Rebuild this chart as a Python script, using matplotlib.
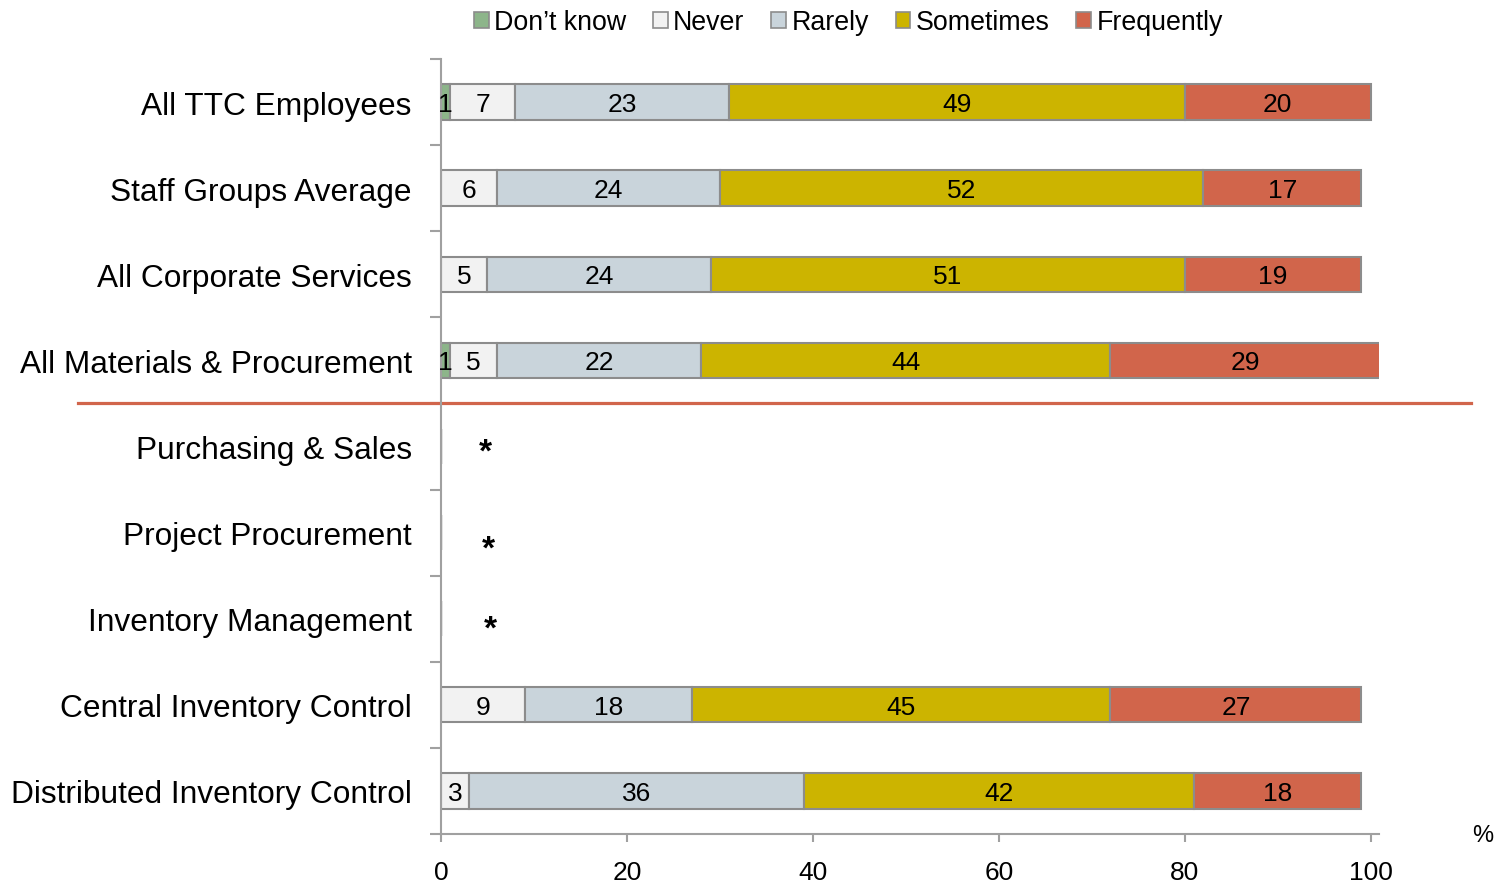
import numpy as np
import matplotlib.pyplot as plt
from matplotlib.patches import Patch
from matplotlib.transforms import blended_transform_factory

plt.rcParams['font.family'] = ['Liberation Sans', 'DejaVu Sans']

CATEGORIES = [
    "All TTC Employees",
    "Staff Groups Average",
    "All Corporate Services",
    "All Materials & Procurement",
    "Purchasing & Sales",
    "Project Procurement",
    "Inventory Management",
    "Central Inventory Control",
    "Distributed Inventory Control",
]
SERIES = ["Don\u2019t know", "Never", "Rarely", "Sometimes", "Frequently"]
COLORS = ["#8db58a", "#f2f2f2", "#c9d4db", "#ccb400", "#d1654b"]

# NaN = no data shown (marked with *)
DONT_KNOW = [1, 0, 0, 1, np.nan, np.nan, np.nan, 0, 0]
NEVER = [7, 6, 5, 5, np.nan, np.nan, np.nan, 9, 3]
RARELY = [23, 24, 24, 22, np.nan, np.nan, np.nan, 18, 36]
SOMETIMES = [49, 52, 51, 44, np.nan, np.nan, np.nan, 45, 42]
FREQUENTLY = [20, 17, 19, 29, np.nan, np.nan, np.nan, 27, 18]

X_TICKS = [0, 20, 40, 60, 80, 100]

values = np.array([DONT_KNOW, NEVER, RARELY, SOMETIMES, FREQUENTLY], dtype=float)

fig = plt.figure(figsize=(14.99, 8.87), dpi=100)
ax = fig.add_axes([0.2942, 0.0586, 0.6258, 0.8738])

y = np.arange(len(CATEGORIES))
left = np.zeros(len(CATEGORIES))
for i, (name, color) in enumerate(zip(SERIES, COLORS)):
    vals = np.nan_to_num(values[i])
    ax.barh(y, vals, left=left, height=0.41, color=color,
            edgecolor="#8c8c8c", linewidth=1.5)
    for j, v in enumerate(vals):
        if v > 0:
            ax.text(left[j] + v / 2, y[j] + 0.02, f"{v:.0f}", ha="center", va="center",
                    fontsize=19, color="black")
    left += vals

# no-data markers
star_offsets = [0.0, 0.12, 0.05]
k = 0
for j in range(len(CATEGORIES)):
    if np.isnan(values[:, j]).all():
        ax.text(4.8 + 0.25 * k, y[j] + 0.07 + star_offsets[k], "*", ha="center",
                va="center", fontsize=24, fontweight="bold")
        k += 1

ax.set_xlim(0, 100.9)
ax.set_ylim(len(CATEGORIES) - 0.5, -0.5)
ax.set_xticks(X_TICKS)
ax.set_xticklabels([str(t) for t in X_TICKS], fontsize=19)
ax.set_yticks(y)
ax.set_yticklabels(CATEGORIES, fontsize=22.8)
ax.set_yticks(np.arange(-0.5, len(CATEGORIES), 1.0), minor=True)
ax.tick_params(axis="y", which="major", length=0, pad=21)
ax.tick_params(axis="y", which="minor", length=8, width=1.5, color="#a0a0a0")
ax.tick_params(axis="x", length=6, width=1.5, color="#a0a0a0", pad=13)

for s in ["top", "right"]:
    ax.spines[s].set_visible(False)
for s in ["left", "bottom"]:
    ax.spines[s].set_color("#a0a0a0")
    ax.spines[s].set_linewidth(1.5)

# separator between summary groups and sub-groups
trans = blended_transform_factory(fig.transFigure, ax.transData)
ax.plot([0.052, 0.981], [3.5, 3.5], transform=trans, color="#d1654b",
        linewidth=2.3, clip_on=False)

fig.text(0.989, 0.058, "%", fontsize=17, ha="center", va="center")

handles = [Patch(facecolor=c, edgecolor="#8c8c8c", linewidth=1.2) for c in COLORS]
fig.legend(handles, SERIES, loc="center", bbox_to_anchor=(0.566, 0.974), ncol=5,
           frameon=False, fontsize=19.3, handlelength=0.55, handleheight=0.55,
           handletextpad=0.2, columnspacing=1.0)

fig.savefig("out.png", dpi=100, facecolor="white")
